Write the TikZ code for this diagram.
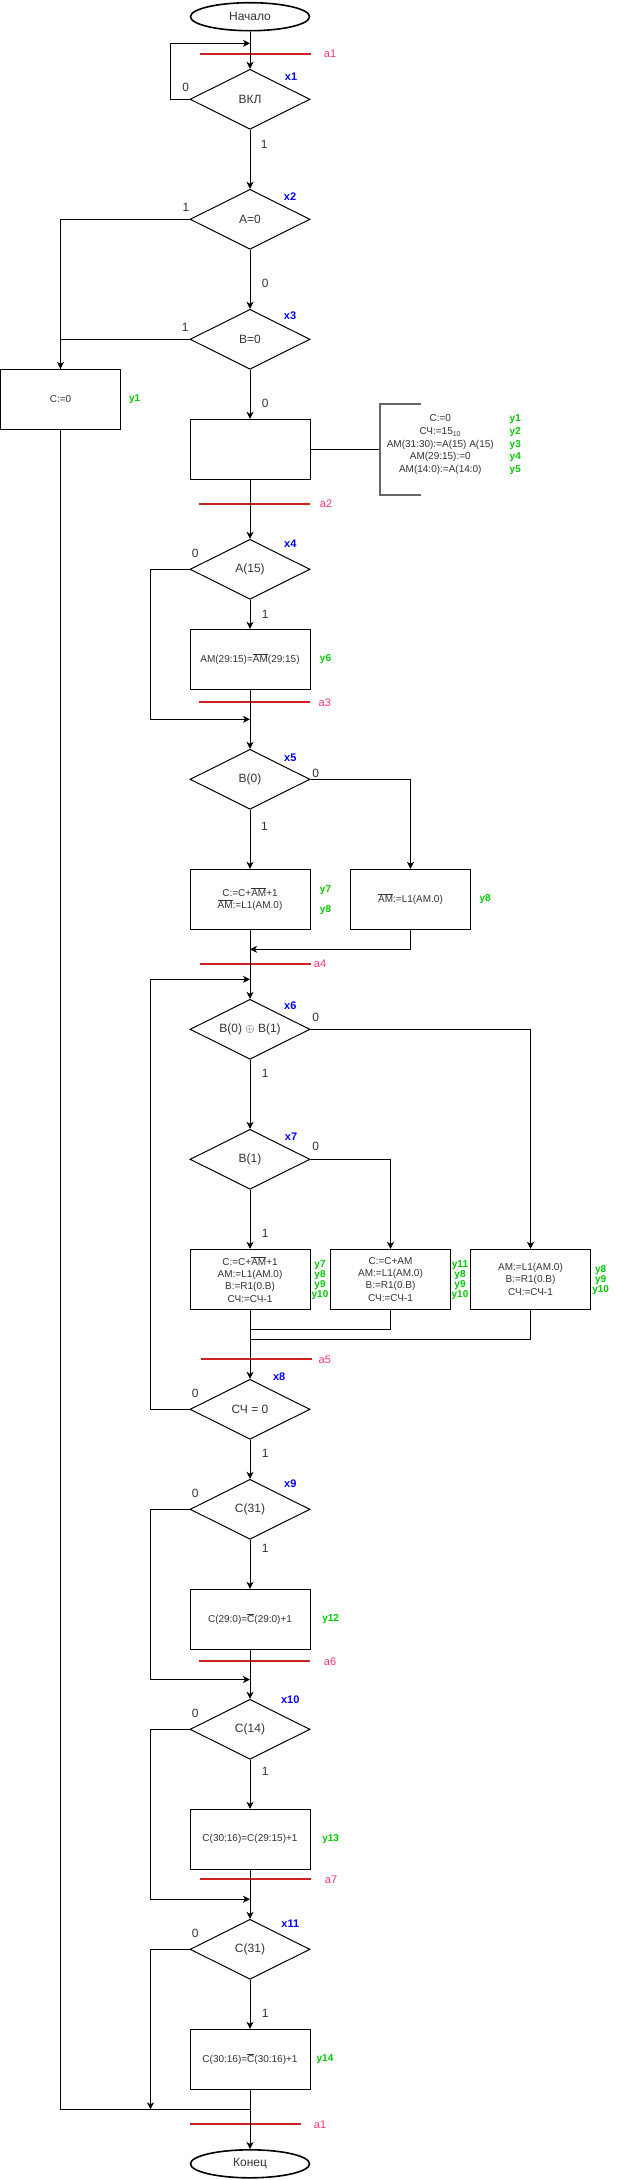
\documentclass[tikz,border=0pt]{standalone}
\usepackage{fontspec}
\setmainfont{Liberation Sans}
\usetikzlibrary{shapes.geometric, arrows.meta}
\definecolor{xblue}{HTML}{0000FF}
\definecolor{ygreen}{HTML}{00CC00}
\definecolor{apink}{HTML}{FF3377}
\definecolor{barred}{HTML}{CC2222}
\tikzstyle{startstop} = [ellipse, minimum width=119pt, minimum height=28pt, inner sep=0pt, draw=black, line width=1.6pt, font=\fontsize{12}{14}\selectfont, text=black!80]
\tikzstyle{process} = [rectangle, minimum width=120pt, minimum height=60pt, inner sep=0pt, align=center, draw=black, line width=1pt, font=\fontsize{10}{12.2}\selectfont, text=black!80]
\tikzstyle{decision} = [diamond, aspect=2, minimum width=120pt, minimum height=60pt, inner sep=0pt, draw=black, line width=1pt, font=\fontsize{12}{14}\selectfont, text=black!80]
\tikzstyle{arrow} = [line width=1pt,->,>={Stealth[length=7pt,width=7pt,inset=2pt]}]
\tikzstyle{wire} = [line width=1pt]
\tikzstyle{lab} = [font=\fontsize{12}{14}\selectfont, text=black!80]
\tikzstyle{xlab} = [font=\fontsize{11}{13}\selectfont\bfseries, text=xblue]
\tikzstyle{ylab} = [font=\fontsize{10}{10}\selectfont\bfseries, text=ygreen, align=center, inner sep=0pt]
\tikzstyle{alab} = [font=\fontsize{11}{13}\selectfont, text=apink]
\tikzstyle{redbar} = [rectangle, fill=barred, minimum width=111pt, minimum height=2pt, inner sep=0pt]
\tikzstyle{bracket} = [draw=black!60, line width=1.5pt]
\newcommand{\ovl}[1]{\ensuremath{\overline{\mbox{#1}}}}
\pgfdeclarelayer{background}
\pgfsetlayers{background,main}

\begin{document}
\begin{tikzpicture}[x=1pt, y=-1pt, node distance=120pt]
\useasboundingbox (0,0) rectangle (621,2180);
% main column
\node (start) at (250,16.7) [startstop] {Начало};
\node (vkl) [decision, below of=start, yshift=37.4pt] {ВКЛ};
\node (aeq) [decision, below of=vkl] {A=0};
\node (beq) [decision, below of=aeq] {B=0};
\node (init) [process, below of=beq, yshift=10pt] {};
\node (a15) [decision, below of=init] {A(15)};
\node (inv) [process, below of=a15, yshift=30pt] {AM(29:15)=\ovl{AM}(29:15)};
\node (b0) [decision, below of=inv] {B(0)};
\node (add1) [process, below of=b0] {C:=C+\ovl{AM}+1\\\ovl{AM}:=L1(AM.0)};
\node (xor) [decision, below of=add1, yshift=-10pt] {B(0) $\oplus$ B(1)};
\node (b1) [decision, below of=xor, yshift=-10pt] {B(1)};
\node (sub1) [process, below of=b1] {C:=C+\ovl{AM}+1\\AM:=L1(AM.0)\\B:=R1(0.B)\\СЧ:=СЧ-1};
\node (cnt) [decision, below of=sub1, yshift=-10pt] {СЧ = 0};
\node (c31a) [decision, below of=cnt, yshift=20pt] {C(31)};
\node (corr1) [process, below of=c31a, yshift=10pt] {C(29:0)=\ovl{C}(29:0)+1};
\node (c14) [decision, below of=corr1, yshift=10pt] {C(14)};
\node (corr2) [process, below of=c14, yshift=10pt] {C(30:16)=C(29:15)+1};
\node (c31b) [decision, below of=corr2, yshift=10pt] {C(31)};
\node (corr3) [process, below of=c31b, yshift=10pt] {C(30:16)=\ovl{C}(30:16)+1};
\node (stop) [startstop, below of=corr3, yshift=15.5pt] {Конец};
% side boxes
\node (czero) at (60.5,399.3) [process] {C:=0};
\node (shiftam) [process, right of=add1, xshift=40.5pt] {\ovl{AM}:=L1(AM.0)};
\node (sub2) [process, right of=sub1, xshift=20.5pt] {C:=C+AM\\AM:=L1(AM.0)\\B:=R1(0.B)\\СЧ:=СЧ-1};
\node (sub3) [process, right of=sub2, xshift=20pt] {AM:=L1(AM.0)\\B:=R1(0.B)\\СЧ:=СЧ-1};
\node (note) at (440.35,449.3) [minimum width=120.7pt, minimum height=90.7pt, inner sep=0pt] {};
\node (notetext) at (440.3,444.7) [align=center, font=\fontsize{10}{12.6}\selectfont, text=black!80] {C:=0\\СЧ:=15\textsubscript{10}\\AM(31:30):=A(15) A(15)\\AM(29:15):=0\\AM(14:0):=A(14:0)};
% bend points
\coordinate (l1) at (170.3,43.3);
\coordinate (l2) at (150.5,719.3);
\coordinate (m1) at (250,949.3);
\coordinate (l4) at (150.5,979.3);
\coordinate (m2) at (250,1329.3);
\coordinate (m3) at (250,1339.3);
\coordinate (l5) at (150.5,1679.5);
\coordinate (l6) at (150.5,1899.2);
\coordinate (l9) at (150.5,2109.3);
\coordinate (j1) at (250,2109.3);
% state marks
\begin{pgfonlayer}{background}
\node (r1) at (255.5,54) [redbar] {};
\node (r2) at (254.6,504) [redbar] {};
\node (r3) at (254.6,702.3) [redbar] {};
\node (r4) at (255,964) [redbar] {};
\node (r5) at (256.5,1359.3) [redbar] {};
\node (r6) at (254.7,1661) [redbar] {};
\node (r7) at (255.5,1879.3) [redbar] {};
\node (r8) at (245.4,2124.3) [redbar] {};
\end{pgfonlayer}
\node (s1) at (330,54) [alab] {a1};
\node (s2) at (326,504) [alab] {a2};
\node (s3) at (324.8,702.3) [alab] {a3};
\node (s4) at (320,964) [alab] {a4};
\node (s5) at (324.8,1359.3) [alab] {a5};
\node (s6) at (330,1662) [alab] {a6};
\node (s7) at (331,1879.3) [alab] {a7};
\node (s8) at (320,2124.3) [alab] {a1};
% conditions
\node (x1) at (291,77) [xlab] {x1};
\node (x2) at (290,196.7) [xlab] {x2};
\node (x3) at (290,316) [xlab] {x3};
\node (x4) at (290.3,543.7) [xlab] {x4};
\node (x5) at (290.3,757.7) [xlab] {x5};
\node (x6) at (290.3,1006) [xlab] {x6};
\node (x7) at (291,1136.7) [xlab] {x7};
\node (x8) at (279.2,1376.7) [xlab] {x8};
\node (x9) at (290.3,1483.3) [xlab] {x9};
\node (x10) at (290.3,1699.8) [xlab] {x10};
\node (x11) at (290.3,1923.7) [xlab] {x11};
% outputs
\node (y1) at (134.7,399.3) [ylab] {y1};
\node (y1to5) at (515.3,444.7) [ylab, font=\fontsize{10}{12.6}\selectfont\bfseries] {y1\\y2\\y3\\y4\\y5};
\node (y6) at (325.5,659.3) [ylab] {y6};
\node (y7) at (325.5,890) [ylab] {y7};
\node (y8) at (325.5,910) [ylab] {y8};
\node (y8b) at (485.1,899.3) [ylab] {y8};
\node (ys1) at (320,1280) [ylab] {y7\\y8\\y9\\y10};
\node (ys2) at (460,1280) [ylab] {y11\\y8\\y9\\y10};
\node (ys3) at (600.7,1280) [ylab] {y8\\y9\\y10};
\node (y12) at (330.7,1619.4) [ylab] {y12};
\node (y13) at (330.7,1839.5) [ylab] {y13};
\node (y14) at (325,2059.3) [ylab] {y14};
% branch values
\node (o1) at (185.7,87.3) [lab] {0};
\node (o2) at (264.3,144) [lab] {1};
\node (o3) at (186,207) [lab] {1};
\node (o4) at (265.3,283) [lab] {0};
\node (o5) at (185.3,327) [lab] {1};
\node (o6) at (265.3,403) [lab] {0};
\node (o7) at (195.2,553.3) [lab] {0};
\node (o8) at (265.3,614.3) [lab] {1};
\node (o9) at (315.6,773.3) [lab] {0};
\node (o10) at (264.5,826.7) [lab] {1};
\node (o11) at (315.6,1017.7) [lab] {0};
\node (o12) at (265.3,1073.3) [lab] {1};
\node (o13) at (315.6,1146.7) [lab] {0};
\node (o14) at (265.3,1233.3) [lab] {1};
\node (o15) at (195.2,1393.3) [lab] {0};
\node (o16) at (265.3,1453.3) [lab] {1};
\node (o17) at (195.2,1493.3) [lab] {0};
\node (o18) at (265.3,1548.3) [lab] {1};
\node (o19) at (195.2,1713.6) [lab] {0};
\node (o20) at (265.3,1771.4) [lab] {1};
\node (o21) at (195.2,1933.6) [lab] {0};
\node (o22) at (265.3,2013.6) [lab] {1};
% connectors
\draw [arrow] (start)--(vkl);
\draw [arrow] (vkl.west) -| (l1) -- (l1 -| vkl);
\draw [arrow] (vkl)--(aeq);
\draw [arrow] (aeq.west) -| (czero.north);
\draw [wire] (beq.west) -| (czero.north);
\draw [arrow] (aeq)--(beq);
\draw [arrow] (beq)--(init);
\draw [wire] (init)--(note);
\draw [bracket] ([xshift=40.7pt]note.north west) -- (note.north west) -- (note.south west) -- ([xshift=40.7pt]note.south west);
\draw [arrow] (init)--(a15);
\draw [arrow] (a15)--(inv);
\draw [arrow] (a15.west) -| (l2) -- (l2 -| a15);
\draw [arrow] (inv)--(b0);
\draw [arrow] (b0)--(add1);
\draw [arrow] (b0.east) -| (shiftam.north);
\draw [arrow] (shiftam.south) |- (m1);
\draw [arrow] (add1)--(xor);
\draw [arrow] (xor)--(b1);
\draw [arrow] (xor.east) -| (sub3.north);
\draw [arrow] (b1)--(sub1);
\draw [arrow] (b1.east) -| (sub2.north);
\draw [wire] (sub2.south) |- (m2);
\draw [wire] (sub3.south) |- (m3);
\draw [arrow] (sub1)--(cnt);
\draw [arrow] (cnt.west) -| (l4) -- (l4 -| xor);
\draw [arrow] (cnt)--(c31a);
\draw [arrow] (c31a)--(corr1);
\draw [arrow] (c31a.west) -| (l5) -- (l5 -| c31a);
\draw [arrow] (corr1)--(c14);
\draw [arrow] (c14)--(corr2);
\draw [arrow] (c14.west) -| (l6) -- (l6 -| c14);
\draw [arrow] (corr2)--(c31b);
\draw [arrow] (c31b)--(corr3);
\draw [arrow] (c31b.west) -| (l9);
\draw [wire] (czero.south) |- (j1);
\draw [arrow] (corr3)--(stop);
\end{tikzpicture}
\end{document}
